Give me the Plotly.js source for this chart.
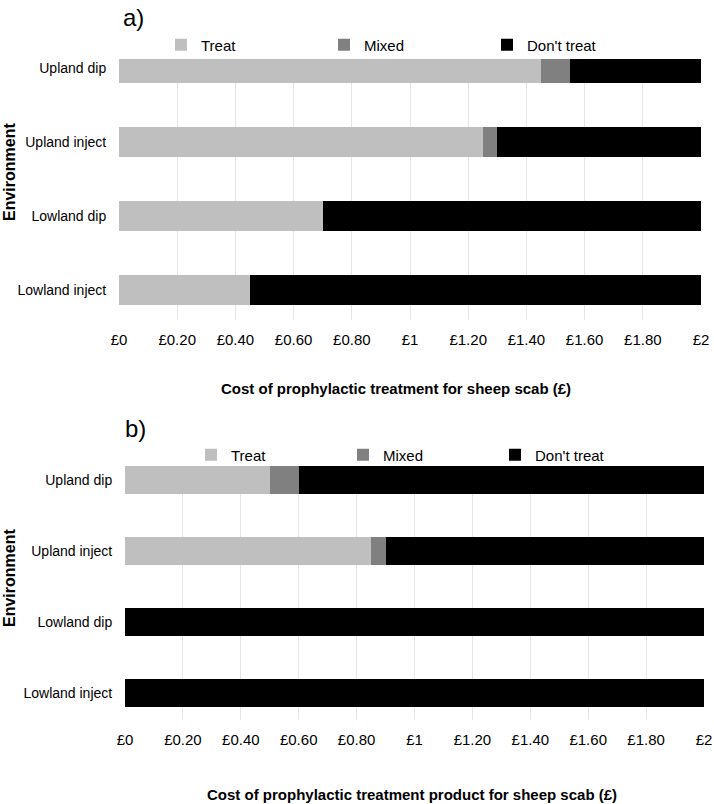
<!DOCTYPE html>
<html>
<head>
<meta charset="utf-8">
<script src="https://cdn.plot.ly/plotly-3.0.1.min.js"></script>
<style>html,body{margin:0;padding:0;background:#fff;}#chart{width:714px;height:804px;}</style>
</head>
<body>
<div id="chart"></div>
<script>
// ---- data ----
const categories = ['Upland dip', 'Upland inject', 'Lowland dip', 'Lowland inject'];
const seriesNames = ['Treat', 'Mixed', "Don't treat"];
const aTreat = [1.45, 1.25, 0.70, 0.45];
const aMixed = [0.10, 0.05, 0.00, 0.00];
const aDont  = [0.45, 0.70, 1.30, 1.55];
const bTreat = [0.50, 0.85, 0.00, 0.00];
const bMixed = [0.10, 0.05, 0.00, 0.00];
const bDont  = [1.40, 1.10, 2.00, 2.00];
const tickVals = [0, 0.2, 0.4, 0.6, 0.8, 1.0, 1.2, 1.4, 1.6, 1.8, 2.0];
const tickText = ['£0', '£0.20', '£0.40', '£0.60', '£0.80', '£1', '£1.20', '£1.40', '£1.60', '£1.80', '£2'];
const panelLabels = ['a)', 'b)'];
const xTitles = ['Cost of prophylactic treatment for sheep scab (£)', 'Cost of prophylactic treatment product for sheep scab (£)'];
const yTitle = 'Environment';

const colors = ['#bfbfbf', '#808080', '#000000'];
const FONT = 'Liberation Sans, Arial, sans-serif';
const W = 714, H = 804;
const px = v => v / W, py = v => 1 - v / H;

function mk(vals, i, panel) {
  return {
    type: 'bar', orientation: 'h', y: categories, x: vals, name: seriesNames[i],
    marker: {color: colors[i]}, width: panel === 0 ? 0.405 : 0.394,
    xaxis: panel === 0 ? 'x' : 'x2', yaxis: panel === 0 ? 'y' : 'y2',
    legend: panel === 0 ? 'legend' : 'legend2', hoverinfo: 'x+y+name'
  };
}
const data = [
  mk(aTreat, 0, 0), mk(aMixed, 1, 0), mk(aDont, 2, 0),
  mk(bTreat, 0, 1), mk(bMixed, 1, 1), mk(bDont, 2, 1)
];

const xCommon = {
  range: [0, 2], tickvals: tickVals, ticktext: tickText, showgrid: true,
  gridcolor: '#e5e5e5', gridwidth: 1, zeroline: false, showline: false,
  ticks: 'outside', ticklen: 6, tickcolor: 'rgba(0,0,0,0)',
  tickfont: {family: FONT, size: 15, color: '#000'}, fixedrange: true
};
const yCommon = {
  type: 'category', categoryorder: 'array', categoryarray: categories,
  showgrid: false, zeroline: false, showline: false,
  ticks: 'outside', ticklen: 9, tickcolor: 'rgba(0,0,0,0)',
  tickfont: {family: FONT, size: 14, color: '#000'}, fixedrange: true
};

const legendCommon = {
  orientation: 'h', xanchor: 'left', yanchor: 'middle',
  font: {family: FONT, size: 15, color: '#000'}, bgcolor: 'rgba(0,0,0,0)',
  entrywidthmode: 'pixels', itemclick: false, itemdoubleclick: false,
  traceorder: 'normal'
};

const layout = {
  width: W, height: H, margin: {l: 0, r: 0, t: 0, b: 0},
  paper_bgcolor: '#fff', plot_bgcolor: '#fff',
  barmode: 'stack', showlegend: true,
  font: {family: FONT, color: '#000'},
  xaxis: Object.assign({}, xCommon, {domain: [px(119), px(701)], anchor: 'y'}),
  yaxis: Object.assign({}, yCommon, {domain: [py(320), py(59)], range: [3.405, -0.122], anchor: 'x'}),
  xaxis2: Object.assign({}, xCommon, {domain: [px(125), px(704)], anchor: 'y2'}),
  yaxis2: Object.assign({}, yCommon, {domain: [py(720), py(466)], range: [3.38, -0.197], anchor: 'x2'}),
  legend: Object.assign({}, legendCommon, {x: px(161), y: py(45), entrywidth: 118}),
  legend2: Object.assign({}, legendCommon, {x: px(191), y: py(455), entrywidth: 107}),
  annotations: [
    {text: panelLabels[0], x: px(121), y: py(18), xref: 'paper', yref: 'paper', xanchor: 'left', yanchor: 'middle', showarrow: false, font: {family: FONT, size: 24, color: '#000'}},
    {text: panelLabels[1], x: px(123), y: py(428), xref: 'paper', yref: 'paper', xanchor: 'left', yanchor: 'middle', showarrow: false, font: {family: FONT, size: 24, color: '#000'}},
    {text: '<b>' + xTitles[0] + '</b>', x: px(396), y: py(388), xref: 'paper', yref: 'paper', xanchor: 'center', yanchor: 'middle', showarrow: false, font: {family: FONT, size: 15, color: '#000'}},
    {text: '<b>' + xTitles[1] + '</b>', x: px(412), y: py(794), xref: 'paper', yref: 'paper', xanchor: 'center', yanchor: 'middle', showarrow: false, font: {family: FONT, size: 15, color: '#000'}},
    {text: '<b>' + yTitle + '</b>', x: px(9), y: py(172), xref: 'paper', yref: 'paper', xanchor: 'center', yanchor: 'middle', textangle: -90, showarrow: false, font: {family: FONT, size: 16, color: '#000'}},
    {text: '<b>' + yTitle + '</b>', x: px(9), y: py(578), xref: 'paper', yref: 'paper', xanchor: 'center', yanchor: 'middle', textangle: -90, showarrow: false, font: {family: FONT, size: 16, color: '#000'}}
  ]
};

Plotly.newPlot('chart', data, layout, {displayModeBar: false, staticPlot: true});
</script>
</body>
</html>
